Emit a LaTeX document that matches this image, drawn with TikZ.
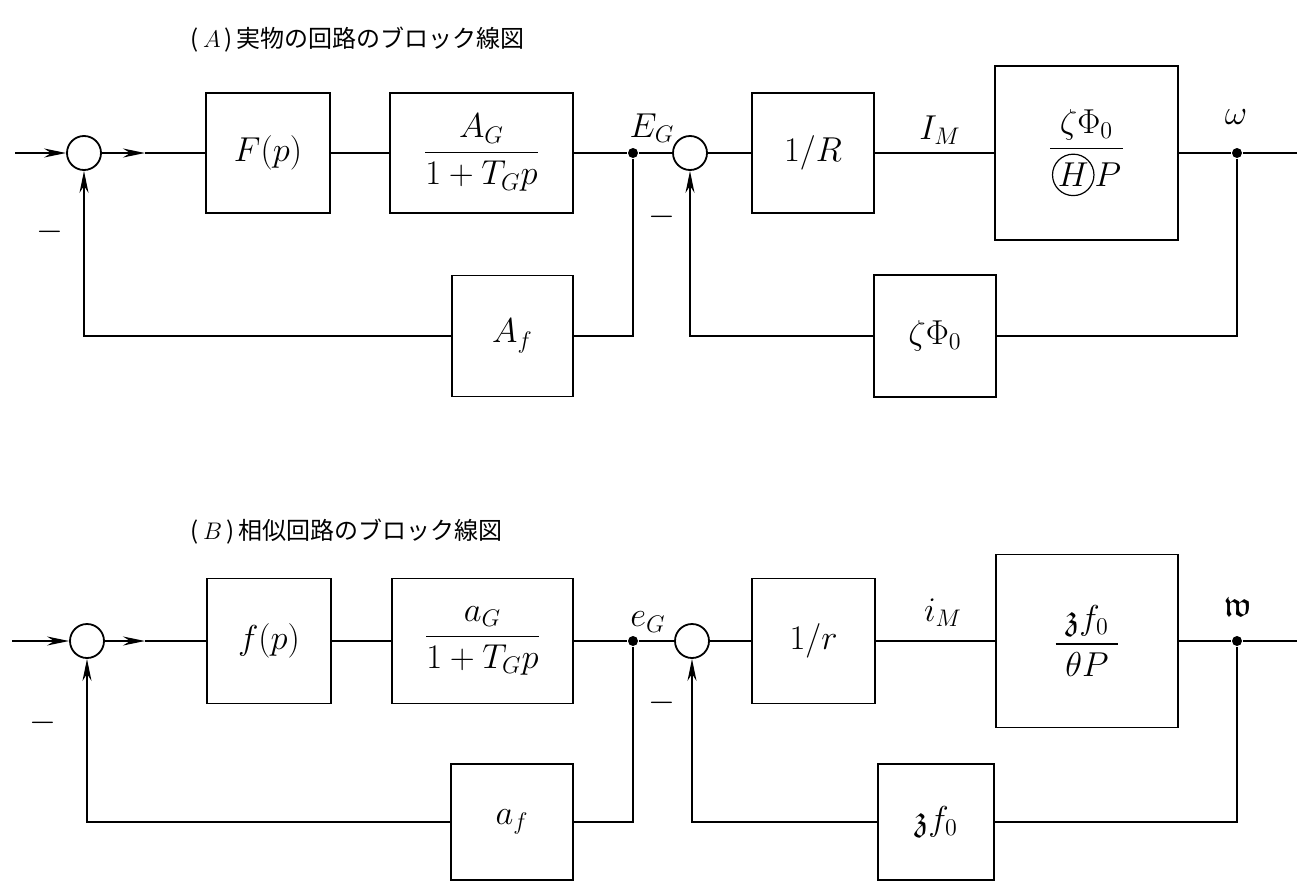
\documentclass[tikz,border=0pt]{standalone}
\usepackage{amsmath}
\usepackage{amssymb}
\usepackage{fontspec}
\usetikzlibrary{arrows.meta,calc}
\newfontfamily\cjk{Noto Sans CJK JP}
\newcommand{\circH}{\tikz[baseline=(h.base)]\node[draw,circle,inner sep=0.5pt,minimum size=0pt,line width=0.6pt,font=\fontsize{16}{18}\selectfont](h){$H$};}
\begin{document}
\begin{tikzpicture}[x=0.5pt,y=-0.5pt,line width=0.9pt,
 blk/.style={draw,line width=0.9pt,inner sep=0pt,font=\fontsize{18}{22}\selectfont},
 sumc/.style={draw,circle,line width=0.9pt,minimum size=17pt,inner sep=0pt},
 jdot/.style={circle,fill,minimum size=5pt,inner sep=0pt},
 lbl/.style={font=\fontsize{18}{22}\selectfont,inner sep=0pt},
 ttl/.style={anchor=west,font=\fontsize{12}{14}\selectfont\cjk,inner sep=0pt},
 arr/.style={-{Stealth[length=11pt,width=4.5pt]}}]
\useasboundingbox (0,0) rectangle (1297,889);
% ---------- (A) ----------
\node[ttl] (ta) at (190,40) {(\,$A$\,)\,実物の回路のブロック線図};
\coordinate (ina) at (15,153);
\node[sumc] (c1a) at (84,153) {};
\coordinate (ma) at (145,153);
\node[blk,minimum width=62pt,minimum height=60pt] (fpa) at (268,153) {$F(p)$};
\node[blk,minimum width=91.5pt,minimum height=60pt] (aga) at (481.5,153) {$\dfrac{A_G}{1+T_Gp}$};
\node[jdot] (ega) at (633,153) {};
\node[sumc] (c2a) at (690,153) {};
\node[blk,minimum width=61pt,minimum height=60pt] (ra) at (813,153) {$1/R$};
\node[blk,minimum width=91.5pt,minimum height=87pt] (mta) at (1086.5,153) {$\dfrac{\;\zeta\Phi_0\;}{\circH P}$};
\node[jdot] (wa) at (1237,153) {};
\coordinate (outa) at (1297,153);
\node[blk,minimum width=60.5pt,minimum height=60.5pt] (afa) at (512.5,336) {$A_f$};
\node[blk,minimum width=61pt,minimum height=61pt] (za) at (935,336) {$\zeta\Phi_0$};
\node[lbl] (lega) at (652,128) {$E_G$};
\node[lbl] (lima) at (940,130) {$I_M$};
\node[lbl] (lwa) at (1236,117) {$\omega$};
\node[lbl] (mn1a) at (50,232) {$-$};
\node[lbl] (mn2a) at (662,217) {$-$};
\draw[arr] (ina) -- (c1a.west);
\draw[arr] (c1a.east) -- (ma);
\draw (ma) -- (fpa.west);
\draw (fpa.east) -- (aga.west);
\draw (aga.east) -- (ega) -- (c2a.west);
\draw (c2a.east) -- (ra.west);
\draw (ra.east) -- (mta.west);
\draw (mta.east) -- (wa) -- (outa);
\draw (ega) |- (afa.east);
\draw[arr] (afa.west) -| (c1a.south);
\draw (wa) |- (za.east);
\draw[arr] (za.west) -| (c2a.south);
% ---------- (B) ----------
\node[ttl] (tb) at (190,532) {(\,$B$\,)\,相似回路のブロック線図};
\coordinate (inb) at (12,641);
\node[sumc] (c1b) at (87,641) {};
\coordinate (mb) at (145,641);
\node[blk,minimum width=62pt,minimum height=62.5pt] (fpb) at (269,641) {$f(p)$};
\node[blk,minimum width=90.5pt,minimum height=62.5pt] (agb) at (482.5,641) {$\dfrac{a_G}{1+T_Gp}$};
\node[jdot] (egb) at (633,641) {};
\node[sumc] (c2b) at (692,641) {};
\node[blk,minimum width=61.5pt,minimum height=62.5pt] (rb) at (813.5,641) {$1/r$};
\node[blk,minimum width=91pt,minimum height=86.5pt] (mtb) at (1087,641) {$\dfrac{\;\mathfrak{z}f_0\;}{\theta P}$};
\node[jdot] (wb) at (1237,641) {};
\coordinate (outb) at (1297,641);
\node[blk,minimum width=61pt,minimum height=58pt] (afb) at (512,822) {$a_f$};
\node[blk,minimum width=58pt,minimum height=58pt] (zb) at (936,822) {$\mathfrak{z}f_0$};
\node[lbl] (legb) at (648,622) {$e_G$};
\node[lbl] (limb) at (943,613) {$i_M$};
\node[lbl] (lwb) at (1238,607) {$\mathfrak{w}$};
\node[lbl] (mn1b) at (43,723) {$-$};
\node[lbl] (mn2b) at (662,703) {$-$};
\draw[arr] (inb) -- (c1b.west);
\draw[arr] (c1b.east) -- (mb);
\draw (mb) -- (fpb.west);
\draw (fpb.east) -- (agb.west);
\draw (agb.east) -- (egb) -- (c2b.west);
\draw (c2b.east) -- (rb.west);
\draw (rb.east) -- (mtb.west);
\draw (mtb.east) -- (wb) -- (outb);
\draw (egb) |- (afb.east);
\draw[arr] (afb.west) -| (c1b.south);
\draw (wb) |- (zb.east);
\draw[arr] (zb.west) -| (c2b.south);
\end{tikzpicture}
\end{document}
